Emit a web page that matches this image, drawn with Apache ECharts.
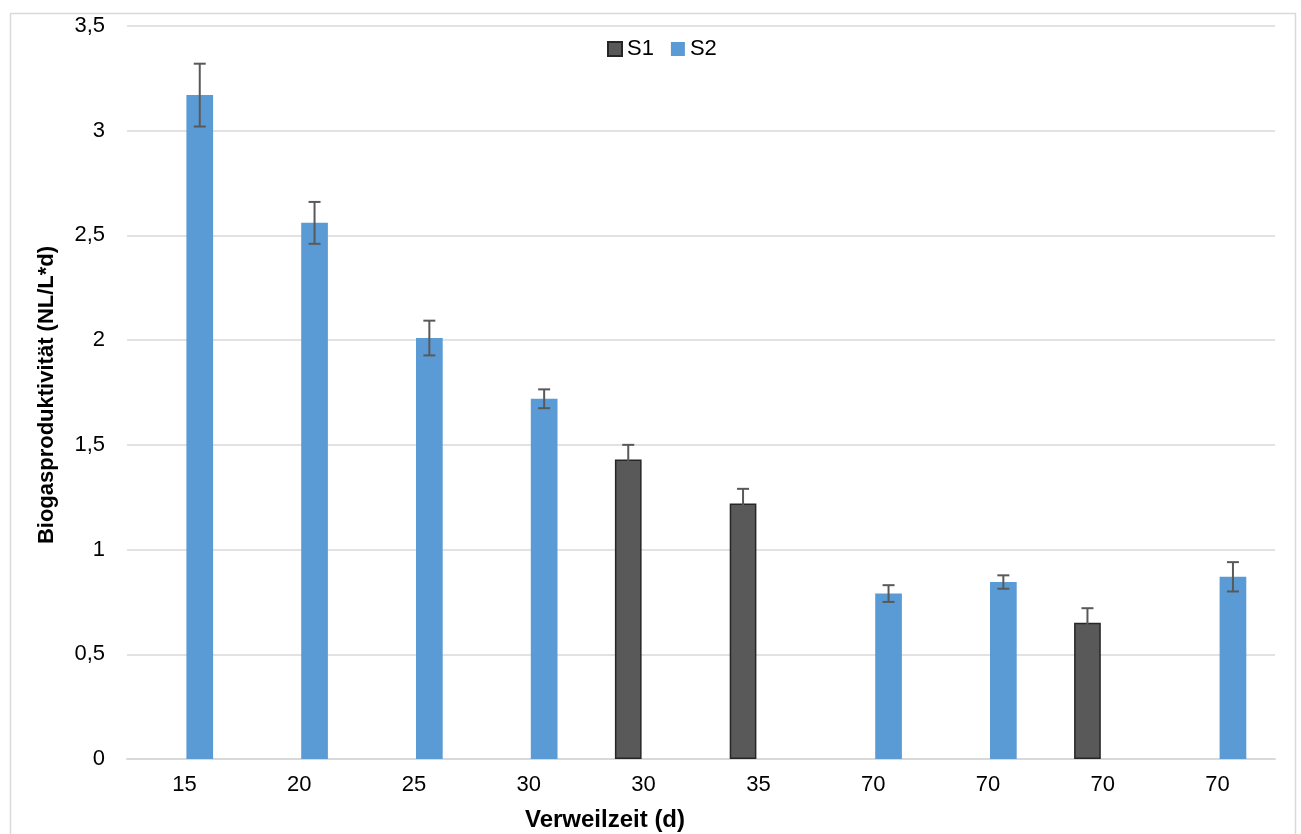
<!DOCTYPE html>
<html>
<head>
<meta charset="utf-8">
<script src="https://cdn.jsdelivr.net/npm/echarts@6/dist/echarts.min.js"></script>
<style>
html,body{margin:0;padding:0;background:#fff;}
#chart{width:1301px;height:834px;}
</style>
</head>
<body>
<div id="chart"></div>
<script>
const categories = ['15','20','25','30','30','35','70','70','70','70'];
const s1Values = [null,null,null,null,1.43,1.22,null,null,0.65,null];
const s1Errors = [null,null,null,null,0.07,0.07,null,null,0.07,null];
const s2Values = [3.17,2.56,2.01,1.72,null,null,0.79,0.845,null,0.87];
const s2Errors = [0.15,0.10,0.083,0.045,null,null,0.04,0.032,null,0.07];
const yTicks = [0,0.5,1,1.5,2,2.5,3,3.5];
const seriesNames = ['S1','S2'];
const xTitle = 'Verweilzeit (d)';
const yTitle = 'Biogasproduktivität (NL/L*d)';

const FONT = '"Liberation Sans", Arial, sans-serif';
const CAT_GAP = 0.5, BAR_GAP = 0.15;

function errData(values, errors, side) {
  const out = [];
  values.forEach((v, i) => {
    if (v != null && errors[i] != null) out.push([i, v - errors[i], v + errors[i], side]);
  });
  return out;
}

const chart = echarts.init(document.getElementById('chart'), null, {renderer: 'canvas'});
chart.setOption({
  animation: false,
  backgroundColor: '#fff',
  grid: {left: 127, right: 26, top: 26, bottom: 75, containLabel: false},
  legend: {
    data: seriesNames,
    icon: 'rect',
    left: 602, top: 33,
    itemWidth: 14, itemHeight: 14, itemGap: 17,
    textStyle: {fontFamily: FONT, fontSize: 22, color: '#000'}
  },
  graphic: [
    {type: 'rect', z: -10, shape: {x: 10.5, y: 13.5, width: 1285, height: 830},
     style: {fill: null, stroke: '#d9d9d9', lineWidth: 1.5}},
    {type: 'text', x: 47, y: 395, rotation: Math.PI / 2,
     style: {text: yTitle, font: 'bold 22px ' + FONT, fill: '#000', textAlign: 'center', textVerticalAlign: 'middle'}},
    {type: 'text', x: 605, y: 820,
     style: {text: xTitle, font: 'bold 24px ' + FONT, fill: '#000', textAlign: 'center', textVerticalAlign: 'middle'}}
  ],
  xAxis: {
    type: 'category',
    data: categories,
    axisLine: {show: true, lineStyle: {color: '#d9d9d9', width: 2}},
    axisTick: {show: false},
    axisLabel: {fontFamily: FONT, fontSize: 22, color: '#000', margin: 15}
  },
  yAxis: {
    type: 'value',
    min: yTicks[0], max: yTicks[yTicks.length - 1], interval: 0.5,
    axisLine: {show: false},
    axisTick: {show: false},
    splitLine: {lineStyle: {color: '#d9d9d9', width: 1.5}},
    axisLabel: {fontFamily: FONT, fontSize: 22, color: '#000', margin: 22,
      formatter: v => String(v).replace('.', ',')}
  },
  series: [
    {name: seriesNames[0], type: 'bar', data: s1Values,
     barCategoryGap: (CAT_GAP * 100) + '%', barGap: (BAR_GAP * 100) + '%',
     itemStyle: {color: '#595959', borderColor: '#262626', borderWidth: 1.5}},
    {name: seriesNames[1], type: 'bar', data: s2Values,
     barCategoryGap: (CAT_GAP * 100) + '%', barGap: (BAR_GAP * 100) + '%',
     itemStyle: {color: '#5b9bd5'}},
    {type: 'custom', name: 'err', z: 10,
     data: errData(s1Values, s1Errors, -1).concat(errData(s2Values, s2Errors, 1)),
     renderItem: function (params, api) {
       const idx = api.value(0), lo = api.value(1), hi = api.value(2), side = api.value(3);
       const band = api.size([1, 0])[0];
       const bw = band * (1 - CAT_GAP) / (2 + BAR_GAP);
       const off = side * (1 + BAR_GAP) * bw / 2;
       const t = api.coord([idx, hi]), b = api.coord([idx, lo]);
       const x = t[0] + off, cap = 6;
       const st = {stroke: '#595959', lineWidth: 2};
       return {type: 'group', children: [
         {type: 'line', shape: {x1: x, y1: t[1], x2: x, y2: b[1]}, style: st},
         {type: 'line', shape: {x1: x - cap, y1: t[1], x2: x + cap, y2: t[1]}, style: st},
         {type: 'line', shape: {x1: x - cap, y1: b[1], x2: x + cap, y2: b[1]}, style: st}
       ]};
     }}
  ]
});
</script>
</body>
</html>
